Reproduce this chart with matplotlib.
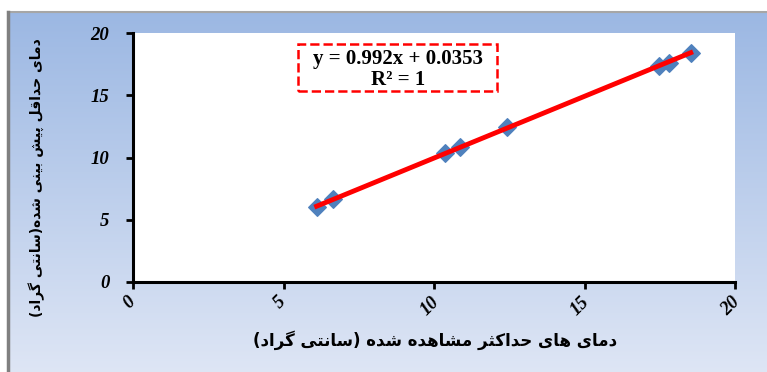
import numpy as np
import matplotlib.pyplot as plt
import matplotlib.transforms as mtransforms
from matplotlib.patches import Rectangle

# observed vs predicted minimum temperature
observed = [6.1, 6.65, 10.37, 10.86, 12.41, 17.47, 17.8, 18.53]
predicted = [6.06, 6.68, 10.38, 10.88, 12.41, 17.32, 17.61, 18.36]
slope = 0.992
intercept = 0.0353
ticks = [0, 5, 10, 15, 20]

eq_line = 'y = 0.992x + 0.0353'
r2_line = 'R² = 1'
xlabel_fa = 'دمای های حداکثر مشاهده شده (سانتی گراد)'
ylabel_fa = 'دمای حداقل پیش بینی شده(سانتی گراد)'

# simple arabic/persian shaping (no reshaper lib available)
forms = {
    'ا': ('\uFE8D', '\uFE8E', None, None),
    'آ': ('\uFE81', '\uFE82', None, None),
    'ب': ('\uFE8F', '\uFE90', '\uFE91', '\uFE92'),
    'پ': ('\uFB56', '\uFB57', '\uFB58', '\uFB59'),
    'ت': ('\uFE95', '\uFE96', '\uFE97', '\uFE98'),
    'ث': ('\uFE99', '\uFE9A', '\uFE9B', '\uFE9C'),
    'ح': ('\uFEA1', '\uFEA2', '\uFEA3', '\uFEA4'),
    'د': ('\uFEA9', '\uFEAA', None, None),
    'ر': ('\uFEAD', '\uFEAE', None, None),
    'س': ('\uFEB1', '\uFEB2', '\uFEB3', '\uFEB4'),
    'ش': ('\uFEB5', '\uFEB6', '\uFEB7', '\uFEB8'),
    'ق': ('\uFED5', '\uFED6', '\uFED7', '\uFED8'),
    'ک': ('\uFB8E', '\uFB8F', '\uFB90', '\uFB91'),
    'گ': ('\uFB92', '\uFB93', '\uFB94', '\uFB95'),
    'ل': ('\uFEDD', '\uFEDE', '\uFEDF', '\uFEE0'),
    'م': ('\uFEE1', '\uFEE2', '\uFEE3', '\uFEE4'),
    'ن': ('\uFEE5', '\uFEE6', '\uFEE7', '\uFEE8'),
    'ه': ('\uFEE9', '\uFEEA', '\uFEEB', '\uFEEC'),
    'و': ('\uFEED', '\uFEEE', None, None),
    'ی': ('\uFBFC', '\uFBFD', '\uFBFE', '\uFBFF'),
}


def shape(s):
    out = []
    for i, ch in enumerate(s):
        if ch not in forms:
            out.append(ch)
            continue
        prev = s[i - 1] if i > 0 else ''
        nxt = s[i + 1] if i + 1 < len(s) else ''
        join_prev = prev in forms and forms[prev][2] is not None
        join_next = nxt in forms and forms[ch][2] is not None
        iso, fin, ini, med = forms[ch]
        if join_prev and join_next:
            out.append(med)
        elif join_prev:
            out.append(fin)
        elif join_next:
            out.append(ini)
        else:
            out.append(iso)
    vis = ''.join(out)[::-1]
    return vis.translate(str.maketrans('()', ')('))


fig = plt.figure(figsize=(7.67, 3.72), dpi=100)

# gradient background panel
bg = fig.add_axes([0, 0, 1, 1])
bg.set_xlim(0, 767)
bg.set_ylim(372, 0)
bg.axis('off')
grad = np.linspace(0, 1, 256).reshape(-1, 1)
top = np.array([0.61, 0.72, 0.89])
bot = np.array([0.87, 0.90, 0.96])
img = top + (bot - top) * grad[:, :, None]
bg.imshow(img, extent=[8, 767, 372, 12], aspect='auto')
bg.plot([8, 767], [12, 12], color='#a6a6a6', lw=1.5)
bg.plot([8, 8], [12, 372], color='#808080', lw=2.5)

ax = fig.add_axes([133 / 767, 1 - 282 / 372, (735 - 133) / 767, (282 - 33) / 372])
ax.set_facecolor('white')

ax.scatter(observed, predicted, marker='D', s=80, color='#4f81bd', zorder=3)
xs = np.array([min(observed), max(observed)])
ax.plot(xs, slope * xs + intercept, color='red', lw=3.5, zorder=4)

ax.set_xlim(0, 20)
ax.set_ylim(0, 20)
ax.set_xticks(ticks)
ax.set_yticks(ticks)
for s in ['top', 'right']:
    ax.spines[s].set_visible(False)
for s in ['left', 'bottom']:
    ax.spines[s].set_linewidth(2.2)
ax.tick_params(direction='out', length=5, width=2)
ax.tick_params(axis='y', pad=12)
ax.tick_params(axis='x', pad=3)
tick_font = dict(family='Liberation Serif', weight='bold', style='italic', size=13.5)
ax.set_xticklabels([str(t) for t in ticks], fontdict=tick_font, rotation=45,
                   ha='center', va='top')
shift = mtransforms.ScaledTranslation(-4 / 100, 0, fig.dpi_scale_trans)
for lab in ax.get_xticklabels():
    lab.set_transform(lab.get_transform() + shift)
ax.set_yticklabels([str(t) for t in ticks], fontdict=tick_font)

# trendline equation box
ax.add_patch(Rectangle((0.274, 0.767), 0.331, 0.189, transform=ax.transAxes,
                       fc='white', ec='red', ls='--', lw=1.8, zorder=5))
ax.text(0.44, 0.897, eq_line, transform=ax.transAxes, ha='center', va='center',
        family='Liberation Serif', weight='bold', size=15, zorder=6)
ax.text(0.44, 0.812, r2_line, transform=ax.transAxes, ha='center', va='center',
        family='Liberation Serif', weight='bold', size=15, zorder=6)

fig.text(435 / 767, 1 - 340 / 372, shape(xlabel_fa), ha='center', va='center',
         family='DejaVu Sans', weight='bold', size=12)
fig.text(37 / 767, 1 - 178 / 372, shape(ylabel_fa), ha='center', va='center',
         rotation=90, family='DejaVu Sans', weight='bold', size=10)

fig.savefig('out.png', dpi=100)
